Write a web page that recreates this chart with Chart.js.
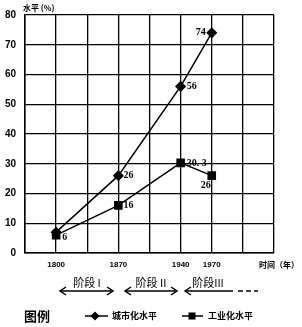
<!DOCTYPE html>
<html><head><meta charset="utf-8">
<script src="https://cdn.jsdelivr.net/npm/chart.js@4"></script>
<style>html,body{margin:0;padding:0;background:#fff}canvas{display:block}</style>
</head><body>
<canvas id="c" width="302" height="327"></canvas>
<script>
// ---- data ----
const axisLabels = ['', '1800', '', '1870', '', '1940', '1970', '', ''];
const years = ['1800', '1870', '1940', '1970'];
const urbanLevel = [7, 26, 56, 74];
const industryLevel = [6, 16, 30.3, 26];
const urbanLabels = ['', '26', '56', '74'];
const industryLabels = ['6', '16', '30. 3', '26'];
const seriesNames = ['城市化水平', '工业化水平'];
const yTicks = [0, 10, 20, 30, 40, 50, 60, 70, 80];
const yTitle = '水平 (%)';
const xTitle = '时间（年）';
const stageNames = ['阶段 I', '阶段 II', '阶段III'];
const legendTitle = '图例';

const urbanOffsets = [null, [5, 0, 'left'], [6, 0, 'left'], [-6, 0, 'right']];
const industryOffsets = [[6, 2, 'left'], [5, 0, 'left'], [6, 1, 'left'], [-6, 10, 'center']];

const extras = {
  id: 'extras',
  afterDatasetsDraw(chart) {
    const ctx = chart.ctx;
    ctx.save();
    ctx.fillStyle = '#000';
    ctx.strokeStyle = '#000';
    ctx.textBaseline = 'middle';
    // data labels
    ctx.font = 'bold 10px "Liberation Serif"';
    const m0 = chart.getDatasetMeta(0).data, m1 = chart.getDatasetMeta(1).data;
    urbanLabels.forEach((t, i) => {
      if (!t) return; const o = urbanOffsets[i];
      ctx.textAlign = o[2]; ctx.fillText(t, m0[i].x + o[0], m0[i].y + o[1]);
    });
    industryLabels.forEach((t, i) => {
      const o = industryOffsets[i];
      ctx.textAlign = o[2]; ctx.fillText(t, m1[i].x + o[0], m1[i].y + o[1]);
    });
    // axis titles
    ctx.font = 'bold 8px "Noto Sans CJK SC"';
    ctx.textAlign = 'left';
    ctx.fillText(yTitle, 23, 8);
    ctx.fillText(xTitle, 259, 265);
    // stage arrows
    ctx.lineWidth = 1.5;
    const y = 291;
    function head(x, dir) {
      ctx.beginPath();
      ctx.moveTo(x + dir * 6, y - 4); ctx.lineTo(x, y); ctx.lineTo(x + dir * 6, y + 4); ctx.stroke();
    }
    function seg(a, b) { ctx.beginPath(); ctx.moveTo(a, y); ctx.lineTo(b, y); ctx.stroke(); }
    seg(60, 113); head(60, 1); head(113, -1);
    seg(125, 177); head(125, 1); head(177, -1);
    seg(185, 233); head(185, 1);
    ctx.setLineDash([5, 3]); seg(238, 258); ctx.setLineDash([]);
    ctx.font = '11px "Noto Sans CJK SC"';
    ctx.textAlign = 'center';
    ctx.fillText(stageNames[0], 87, 283);
    ctx.fillText(stageNames[1], 151, 283);
    ctx.fillText(stageNames[2], 208, 283);
    // legend
    ctx.font = 'bold 13px "Noto Sans CJK SC"';
    ctx.textAlign = 'left';
    ctx.fillText(legendTitle, 24, 316);
    const ly = 316;
    seg2(85, 108, ly); seg2(182, 203, ly);
    function seg2(a, b, yy) { ctx.beginPath(); ctx.moveTo(a, yy); ctx.lineTo(b, yy); ctx.stroke(); }
    ctx.beginPath(); ctx.moveTo(95, ly - 4.5); ctx.lineTo(99.5, ly); ctx.lineTo(95, ly + 4.5); ctx.lineTo(90.5, ly); ctx.closePath(); ctx.fill();
    ctx.fillRect(188.5, ly - 3.5, 7, 7);
    ctx.font = 'bold 9px "Noto Sans CJK SC"';
    ctx.fillText(seriesNames[0], 112, ly);
    ctx.fillText(seriesNames[1], 208, ly);
    ctx.restore();
  }
};

new Chart(document.getElementById('c'), {
  type: 'line',
  data: {
    labels: axisLabels,
    datasets: [
      { label: seriesNames[0], data: years.map((x, i) => ({ x, y: urbanLevel[i] })),
        borderColor: '#000', backgroundColor: '#000', borderWidth: 1.5,
        pointStyle: 'rectRot', pointRadius: 4.5, pointHoverRadius: 4.5, tension: 0 },
      { label: seriesNames[1], data: years.map((x, i) => ({ x, y: industryLevel[i] })),
        borderColor: '#000', backgroundColor: '#000', borderWidth: 1.5,
        pointStyle: 'rect', pointRadius: 5, pointHoverRadius: 5, tension: 0 }
    ]
  },
  options: {
    responsive: false, animation: false,
    layout: { padding: { left: 0, top: 14, right: 28, bottom: 50 } },
    plugins: { legend: { display: false }, tooltip: { enabled: false } },
    scales: {
      x: {
        type: 'category', offset: false,
        grid: { color: '#000', lineWidth: 1.3, drawTicks: false, tickLength: 0 },
        border: { color: '#000', width: 1.5 },
        ticks: { color: '#000', font: { family: '"Liberation Sans"', size: 8, weight: 'bold' },
                 padding: 7, maxRotation: 0, autoSkip: false },
        afterFit(s) { s.height = 24; }
      },
      y: {
        min: 0, max: 80,
        afterBuildTicks(s) { s.ticks = yTicks.map(v => ({ value: v })); },
        grid: { color: '#000', lineWidth: 1.3, drawTicks: false, tickLength: 0 },
        border: { color: '#000', width: 1.5 },
        ticks: { color: '#000', font: { family: '"Liberation Sans"', size: 10, weight: 'bold' }, padding: 9 },
        afterFit(s) { s.width = 25; }
      }
    }
  },
  plugins: [extras]
});
</script>
</body></html>
